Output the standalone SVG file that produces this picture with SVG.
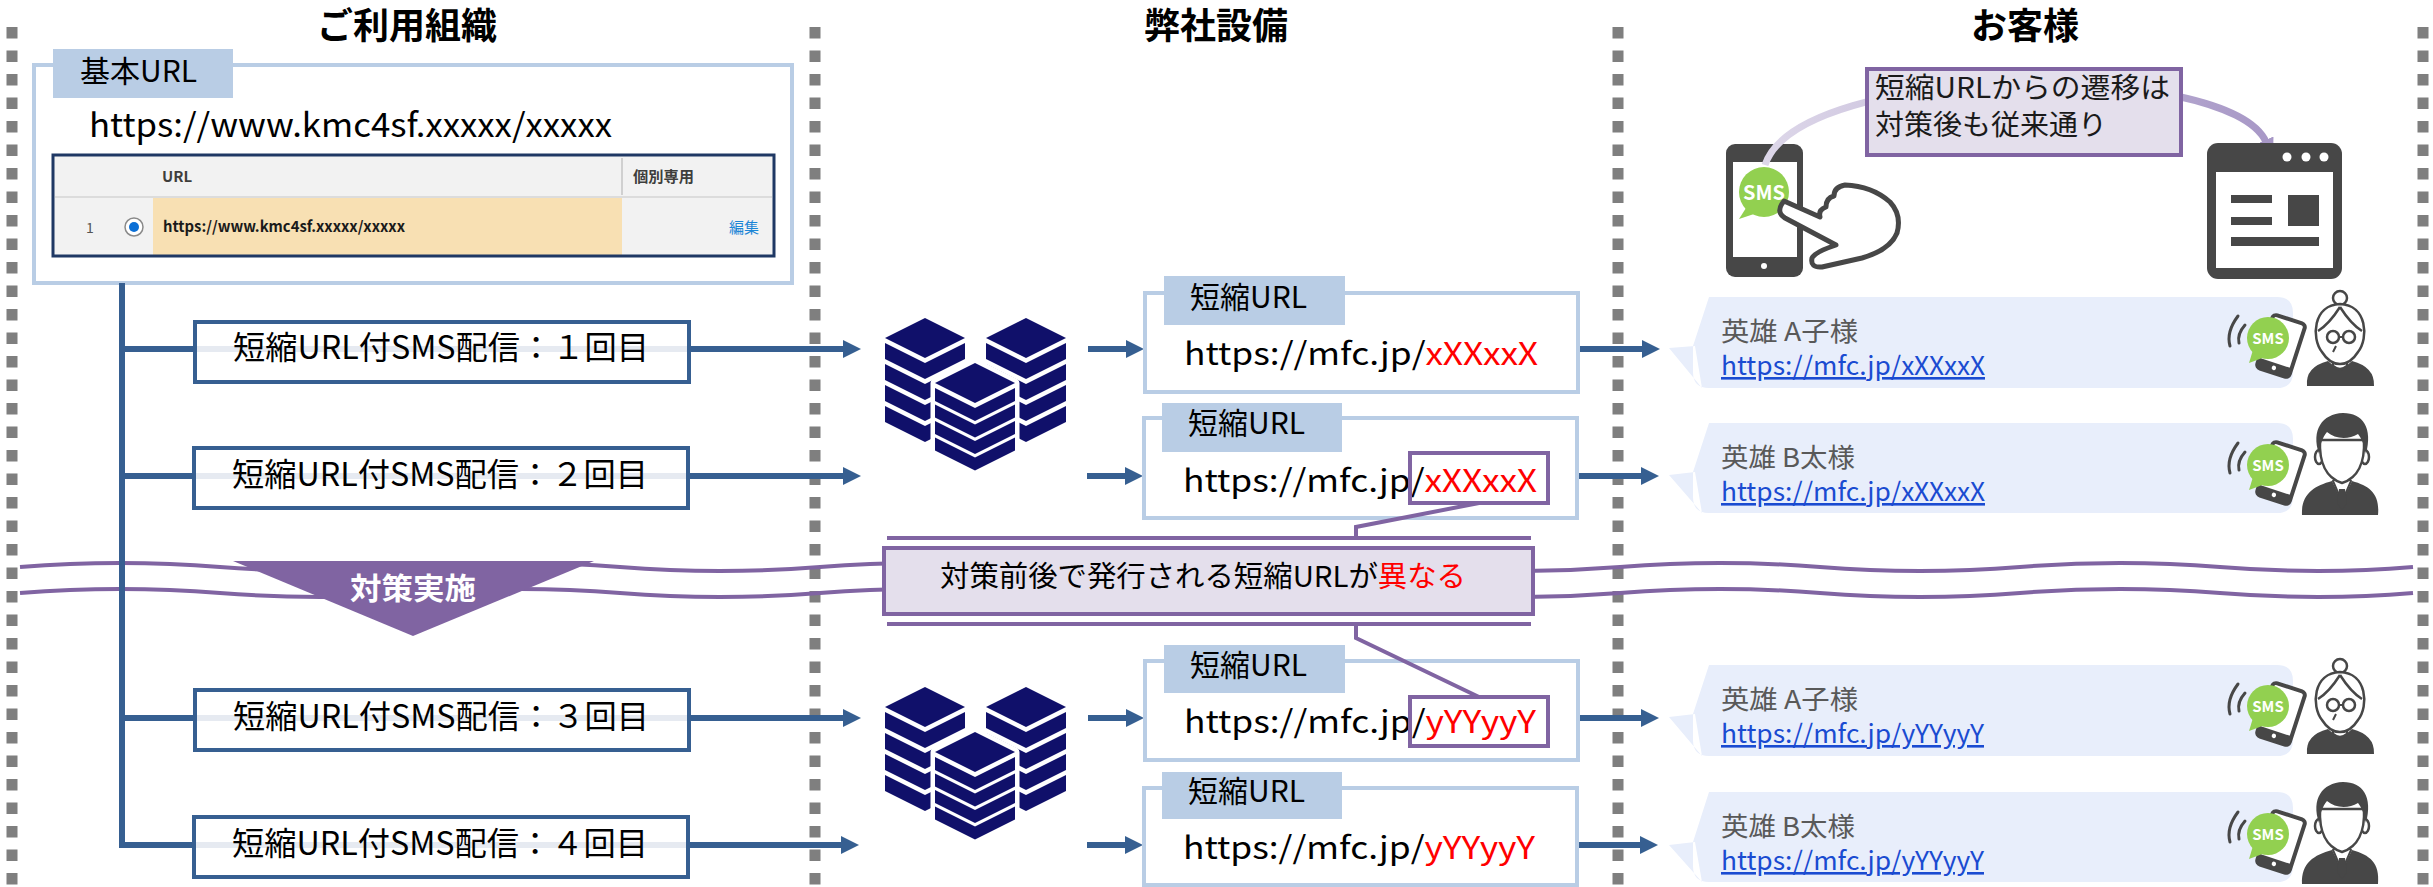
<svg xmlns="http://www.w3.org/2000/svg" width="2433" height="887" viewBox="0 0 2433 887">
<defs>
<style>
text { font-family: 'Noto Sans CJK JP', 'Noto Sans', sans-serif; }
.title { font-size: 36px; font-weight: 700; fill: #000; text-anchor: middle; }
.sep { stroke: #7f7f7f; stroke-width: 11; stroke-dasharray: 11.5 12; fill: none; }
.wave { fill: none; stroke: #8064a2; stroke-width: 4; }
.conn { stroke: #365f91; stroke-width: 6; fill: none; }
.arr { stroke: #365f91; stroke-width: 6; fill: none; marker-end: url(#head); }
.smsbox { fill: #fff; stroke: #365f91; stroke-width: 4; }
.ghost { stroke: #e6eaf1; stroke-width: 6; }
.smstext { font-size: 32px; fill: #000; }
.urlbox { fill: #fff; stroke: #b9cde5; stroke-width: 4; }
.tab { fill: #b9cde5; }
.tabtext { font-size: 30px; fill: #000; }
.url { font-size: 31px; fill: #000; }
.red { fill: #ff0000; }
.mark { fill: none; stroke: #8064a2; stroke-width: 4; }
.lead { fill: none; stroke: #8064a2; stroke-width: 4; }
.callout { fill: #e4dfec; stroke: #8064a2; stroke-width: 4; }
.bubble { fill: #e8eefb; }
.name { font-size: 26px; fill: #595959; }
.link { font-size: 26px; fill: #1a4bd1; text-decoration: underline; }
.server { fill: #10106a; }
.icon { fill: #474747; }
.outline { fill: #fff; stroke: #474747; stroke-width: 2.5; stroke-linejoin: round; }
.smslbl { font-weight: 700; fill: #fff; text-anchor: middle; }
</style>
<marker id="head" viewBox="0 0 18 18" markerUnits="userSpaceOnUse" markerWidth="18" markerHeight="18" refX="0" refY="9" orient="auto">
<path d="M0,0 L18,9 L0,18 Z" fill="#365f91"/>
</marker>
<marker id="arcHead" viewBox="0 0 20 20" markerUnits="userSpaceOnUse" markerWidth="20" markerHeight="20" refX="2" refY="10" orient="auto">
<path d="M0,1 L20,10 L0,19 Z" fill="#a797c6"/>
</marker>
<linearGradient id="arcGrad" gradientUnits="userSpaceOnUse" x1="1765" y1="0" x2="2275" y2="0">
<stop offset="0" stop-color="#ddd7e9"/>
<stop offset="1" stop-color="#a797c6"/>
</linearGradient>

<!-- stacked-server glyph -->
<g id="serverGlyph" class="server">
<!-- left stack -->
<path d="M885,338 L925,318 L965,338 L925,358 Z"/>
<path d="M885,343 L925,363 L965,343 L965,359 L925,379 L885,359 Z"/>
<path d="M885,364 L925,384 L965,364 L965,380 L925,400 L885,380 Z"/>
<path d="M885,385 L925,405 L965,385 L965,401 L925,421 L885,401 Z"/>
<path d="M885,406 L925,426 L965,406 L965,422 L925,442 L885,422 Z"/>
<!-- right stack -->
<path d="M986,338 L1026,318 L1066,338 L1026,358 Z"/>
<path d="M986,343 L1026,363 L1066,343 L1066,359 L1026,379 L986,359 Z"/>
<path d="M986,364 L1026,384 L1066,364 L1066,380 L1026,400 L986,380 Z"/>
<path d="M986,385 L1026,405 L1066,385 L1066,401 L1026,421 L986,401 Z"/>
<path d="M986,406 L1026,426 L1066,406 L1066,422 L1026,442 L986,422 Z"/>
<!-- front stack -->
<path d="M935,383 L975,363 L1015,383 L1015,451 L975,471 L935,451 Z" fill="#fff" stroke="#fff" stroke-width="9" stroke-linejoin="round"/>
<path d="M935,383 L975,363 L1015,383 L975,403 Z"/>
<path d="M935,388 L975,408 L1015,388 L1015,401 L975,421 L935,401 Z"/>
<path d="M935,404.5 L975,424.5 L1015,404.5 L1015,417.5 L975,437.5 L935,417.5 Z"/>
<path d="M935,421 L975,441 L1015,421 L1015,434 L975,454 L935,434 Z"/>
<path d="M935,437.5 L975,457.5 L1015,437.5 L1015,450.5 L975,470.5 L935,450.5 Z"/>
</g>

<!-- phone receiving an SMS, centred on the green badge -->
<g id="smsPhone">
<g transform="translate(13,8) rotate(18)">
<rect x="-17" y="-28" width="34" height="56" rx="4" fill="#fff" stroke="#474747" stroke-width="4"/>
<rect x="-17" y="18" width="34" height="10" fill="#474747"/>
<circle cx="0" cy="23" r="2.2" fill="#fff"/>
</g>
<path d="M-30,-22 Q-42,-6 -38,8" fill="none" stroke="#474747" stroke-width="3" stroke-linecap="round"/>
<path d="M-23,-13 Q-31,-4 -29,5" fill="none" stroke="#474747" stroke-width="3" stroke-linecap="round"/>
<path d="M-15,12 L-19,25 L-3,19 Z" fill="#92d050"/>
<circle cx="0" cy="0" r="21" fill="#92d050"/>
<text x="0" y="6" class="smslbl" font-size="15">SMS</text>
</g>

<!-- woman figure -->
<g id="woman">
<path class="icon" d="M2307,386 Q2305,367 2328,361 Q2340,373 2352,361 Q2375,367 2374,386 Z"/>
<path class="outline" d="M2333,356 L2333,366 Q2340,372 2347,366 L2347,356 Z"/>
<circle class="outline" cx="2340" cy="298" r="7"/>
<path class="outline" d="M2322,352 C2311,338 2313,305 2340,304 C2367,305 2369,338 2358,352 C2353,360 2346,364 2340,364 C2334,364 2327,360 2322,352 Z"/>
<path d="M2340,307 C2333,318 2326,326 2318,331 M2340,307 C2347,318 2354,326 2362,331" fill="none" stroke="#474747" stroke-width="2.5"/>
<circle cx="2333" cy="337" r="6" fill="none" stroke="#474747" stroke-width="2.5"/>
<circle cx="2349" cy="337" r="6" fill="none" stroke="#474747" stroke-width="2.5"/>
<path d="M2339,337 L2343,337 M2336,346 L2333,352" stroke="#474747" stroke-width="2" fill="none"/>
</g>

<!-- man figure -->
<g id="man">
<path class="icon" d="M2302,515 C2301,494 2314,486 2332,481 L2342,502 L2352,481 C2370,486 2380,494 2378,515 Z"/>
<path d="M2333,481 L2342,502 L2351,481 L2347,477 L2337,477 Z" fill="#fff" stroke="#474747" stroke-width="2"/>
<path class="icon" d="M2339,489 L2345,489 L2347,503 L2342,510 L2337,503 Z"/>
<ellipse class="outline" cx="2319" cy="457" rx="4" ry="7"/>
<ellipse class="outline" cx="2365" cy="457" rx="4" ry="7"/>
<path class="outline" d="M2320,440 C2319,462 2326,478 2342,483 C2358,478 2365,462 2364,440 Z"/>
<path class="icon" d="M2319,454 C2311,430 2322,414 2343,413 C2363,413 2373,428 2366,454 C2364,445 2362,439 2358,434 C2348,440 2335,439 2327,432 C2322,438 2320,446 2319,454 Z"/>
</g>
</defs>

<!-- column separators -->
<g id="separators">
<line class="sep" x1="12" y1="27" x2="12" y2="887"/>
<line class="sep" x1="815" y1="27" x2="815" y2="887"/>
<line class="sep" x1="1618" y1="27" x2="1618" y2="887"/>
<line class="sep" x1="2423" y1="27" x2="2423" y2="887"/>
</g>

<!-- column headers -->
<g id="col-headers">
<text class="title" x="407" y="39">ご利用組織</text>
<text class="title" x="1216" y="39">弊社設備</text>
<text class="title" x="2025" y="39">お客様</text>
</g>

<!-- break lines marking the change-over -->
<g id="break-waves">
<path class="wave" d="M20,567 q100,-8 200,0 t200,0 t200,0 t200,0 t200,0 t200,0 t200,0 t200,0 t200,0 t200,0 t200,0 t193,0"/>
<path class="wave" d="M20,593 q100,-8 200,0 t200,0 t200,0 t200,0 t200,0 t200,0 t200,0 t200,0 t200,0 t200,0 t200,0 t193,0"/>
</g>

<!-- base URL registered by the organisation -->
<g id="base-url">
<rect x="34" y="65" width="758" height="218" fill="#fff" stroke="#b9cde5" stroke-width="4"/>
<rect class="tab" x="53" y="49" width="180" height="49"/>
<text class="tabtext" x="80" y="82">基本URL</text>
<text x="89" y="137" font-size="33" textLength="523" lengthAdjust="spacingAndGlyphs">https://www.kmc4sf.xxxxx/xxxxx</text>
<g id="url-table">
<rect x="53" y="155" width="721" height="101" fill="#f2f2f2"/>
<rect x="153" y="198" width="469" height="57" fill="#f8e0b3"/>
<line x1="55" y1="197" x2="772" y2="197" stroke="#dcdcdc" stroke-width="2"/>
<line x1="622" y1="158" x2="622" y2="195" stroke="#c4c4c4" stroke-width="1.5"/>
<text x="162" y="182" font-size="15" font-weight="700" fill="#3e3e3c">URL</text>
<text x="633" y="182" font-size="15" font-weight="700" fill="#3e3e3c" textLength="61" lengthAdjust="spacingAndGlyphs">個別専用</text>
<text x="86" y="233" font-size="14" fill="#555">1</text>
<circle cx="134" cy="227" r="9" fill="#fff" stroke="#8a8a8a" stroke-width="1.5"/>
<circle cx="134" cy="227" r="5" fill="#0b6fd6"/>
<text x="163" y="232" font-size="15" font-weight="700" fill="#1a1a1a" textLength="242" lengthAdjust="spacingAndGlyphs">https://www.kmc4sf.xxxxx/xxxxx</text>
<text x="729" y="233" font-size="15" fill="#1b86d6" textLength="30" lengthAdjust="spacingAndGlyphs">編集</text>
<rect x="53" y="155" width="721" height="101" fill="none" stroke="#1f3864" stroke-width="3"/>
</g>
</g>

<!-- connectors -->
<g id="connectors">
<path class="conn" d="M122,283 L122,845 L197,845"/>
<line class="conn" x1="122" y1="349" x2="197" y2="349"/>
<line class="conn" x1="122" y1="476" x2="196" y2="476"/>
<line class="conn" x1="122" y1="718" x2="197" y2="718"/>
<line class="arr" x1="689" y1="349" x2="843" y2="349"/>
<line class="arr" x1="688" y1="476" x2="843" y2="476"/>
<line class="arr" x1="689" y1="718" x2="843" y2="718"/>
<line class="arr" x1="688" y1="845" x2="841" y2="845"/>
<line class="arr" x1="1088" y1="349" x2="1126" y2="349"/>
<line class="arr" x1="1087" y1="476" x2="1125" y2="476"/>
<line class="arr" x1="1088" y1="718" x2="1126" y2="718"/>
<line class="arr" x1="1087" y1="845" x2="1125" y2="845"/>
<line class="arr" x1="1578" y1="349" x2="1642" y2="349"/>
<line class="arr" x1="1577" y1="476" x2="1641" y2="476"/>
<line class="arr" x1="1578" y1="718" x2="1641" y2="718"/>
<line class="arr" x1="1577" y1="845" x2="1640" y2="845"/>
</g>

<!-- SMS dispatches -->
<g id="sms-1">
<rect class="smsbox" x="195" y="322" width="494" height="60"/>
<line class="ghost" x1="197" y1="349" x2="687" y2="349"/>
<text class="smstext" x="233" y="359" textLength="416" lengthAdjust="spacingAndGlyphs">短縮URL付SMS配信：１回目</text>
</g>
<g id="sms-2">
<rect class="smsbox" x="194" y="448" width="494" height="60"/>
<line class="ghost" x1="196" y1="476" x2="686" y2="476"/>
<text class="smstext" x="232" y="486" textLength="416" lengthAdjust="spacingAndGlyphs">短縮URL付SMS配信：２回目</text>
</g>
<g id="sms-3">
<rect class="smsbox" x="195" y="690" width="494" height="60"/>
<line class="ghost" x1="197" y1="718" x2="687" y2="718"/>
<text class="smstext" x="233" y="728" textLength="416" lengthAdjust="spacingAndGlyphs">短縮URL付SMS配信：３回目</text>
</g>
<g id="sms-4">
<rect class="smsbox" x="194" y="817" width="494" height="60"/>
<line class="ghost" x1="196" y1="845" x2="686" y2="845"/>
<text class="smstext" x="232" y="855" textLength="416" lengthAdjust="spacingAndGlyphs">短縮URL付SMS配信：４回目</text>
</g>

<!-- countermeasure marker -->
<g id="countermeasure">
<path d="M233,561 L594,561 L413,636 Z" fill="#8064a2"/>
<text x="413" y="599" font-size="30" font-weight="700" fill="#fff" text-anchor="middle" textLength="126" lengthAdjust="spacingAndGlyphs">対策実施</text>
</g>

<!-- shortening servers -->
<g id="server-1"><use href="#serverGlyph"/></g>
<g id="server-2"><use href="#serverGlyph" transform="translate(0,369)"/></g>

<!-- issued short URLs -->
<g id="short-url-1">
<rect class="urlbox" x="1145" y="293" width="433" height="99"/>
<rect class="tab" x="1164" y="276" width="181" height="49"/>
<text class="tabtext" x="1190" y="308">短縮URL</text>
<text class="url" x="1184" y="365" textLength="354" lengthAdjust="spacingAndGlyphs">https://mfc.jp/<tspan class="red">xXXxxX</tspan></text>
</g>
<g id="short-url-2">
<rect class="urlbox" x="1144" y="418" width="433" height="100"/>
<rect class="tab" x="1162" y="403" width="180" height="49"/>
<text class="tabtext" x="1188" y="434">短縮URL</text>
<text class="url" x="1183" y="492" textLength="354" lengthAdjust="spacingAndGlyphs">https://mfc.jp/<tspan class="red">xXXxxX</tspan></text>
<rect class="mark" x="1410" y="453" width="138" height="50"/>
</g>
<g id="short-url-3">
<rect class="urlbox" x="1145" y="661" width="433" height="99"/>
<rect class="tab" x="1164" y="645" width="181" height="48"/>
<text class="tabtext" x="1190" y="676">短縮URL</text>
<text class="url" x="1184" y="733" textLength="352" lengthAdjust="spacingAndGlyphs">https://mfc.jp/<tspan class="red">yYYyyY</tspan></text>
<rect class="mark" x="1410" y="697" width="138" height="49"/>
</g>
<g id="short-url-4">
<rect class="urlbox" x="1144" y="788" width="433" height="97"/>
<rect class="tab" x="1162" y="772" width="180" height="47"/>
<text class="tabtext" x="1188" y="802">短縮URL</text>
<text class="url" x="1183" y="859" textLength="352" lengthAdjust="spacingAndGlyphs">https://mfc.jp/<tspan class="red">yYYyyY</tspan></text>
</g>

<!-- note: short URLs differ before and after -->
<g id="diff-note">
<path class="lead" d="M1479,503 L1356,527 L1356,538"/>
<line class="lead" x1="887" y1="538" x2="1531" y2="538"/>
<rect class="callout" x="884" y="548" width="649" height="66"/>
<line class="lead" x1="887" y1="624" x2="1531" y2="624"/>
<path class="lead" d="M1356,624 L1356,638 L1479,697"/>
<text x="940" y="587" font-size="29" fill="#000" textLength="526" lengthAdjust="spacingAndGlyphs">対策前後で発行される短縮URLが<tspan class="red">異なる</tspan></text>
</g>

<!-- recipients -->
<g id="customer-1">
<path class="bubble" d="M1709,297 H2277 Q2293,297 2293,313 V372 Q2293,388 2277,388 H1709 Q1693,388 1693,372 V346 Z M1695,346 L1669,348 L1702,388 Z"/>
<text class="name" x="1721" y="341" textLength="137" lengthAdjust="spacingAndGlyphs">英雄 A子様</text>
<text class="link" x="1721" y="375" textLength="264" lengthAdjust="spacingAndGlyphs">https://mfc.jp/xXXxxX</text>
<use href="#smsPhone" transform="translate(2268,338)"/>
<use href="#woman"/>
</g>
<g id="customer-2">
<path class="bubble" d="M1709,423 H2277 Q2293,423 2293,439 V497 Q2293,513 2277,513 H1709 Q1693,513 1693,497 V472 Z M1695,472 L1669,475 L1702,513 Z"/>
<text class="name" x="1721" y="467" textLength="134" lengthAdjust="spacingAndGlyphs">英雄 B太様</text>
<text class="link" x="1721" y="501" textLength="264" lengthAdjust="spacingAndGlyphs">https://mfc.jp/xXXxxX</text>
<use href="#smsPhone" transform="translate(2268,465)"/>
<use href="#man"/>
</g>
<g id="customer-3">
<path class="bubble" d="M1709,665 H2277 Q2293,665 2293,681 V740 Q2293,756 2277,756 H1709 Q1693,756 1693,740 V714 Z M1695,714 L1669,717 L1702,756 Z"/>
<text class="name" x="1721" y="709" textLength="137" lengthAdjust="spacingAndGlyphs">英雄 A子様</text>
<text class="link" x="1721" y="743" textLength="263" lengthAdjust="spacingAndGlyphs">https://mfc.jp/yYYyyY</text>
<use href="#smsPhone" transform="translate(2268,706)"/>
<use href="#woman" transform="translate(0,368)"/>
</g>
<g id="customer-4">
<path class="bubble" d="M1709,792 H2277 Q2293,792 2293,808 V866 Q2293,882 2277,882 H1709 Q1693,882 1693,866 V842 Z M1695,842 L1669,845 L1702,882 Z"/>
<text class="name" x="1721" y="836" textLength="134" lengthAdjust="spacingAndGlyphs">英雄 B太様</text>
<text class="link" x="1721" y="870" textLength="263" lengthAdjust="spacingAndGlyphs">https://mfc.jp/yYYyyY</text>
<use href="#smsPhone" transform="translate(2268,834)"/>
<use href="#man" transform="translate(0,369)"/>
</g>

<!-- redirect behaviour is unchanged -->
<g id="redirect-note">
<g id="tap-phone">
<rect x="1726" y="144" width="77" height="133" rx="9" fill="#474747"/>
<rect x="1733" y="162" width="64" height="95" fill="#fff"/>
<circle cx="1764" cy="266" r="3" fill="#fff"/>
</g>
<path d="M1765,165 C1800,60 2230,60 2266,142" fill="none" stroke="url(#arcGrad)" stroke-width="7" marker-end="url(#arcHead)"/>
<rect class="callout" x="1867" y="69" width="314" height="86"/>
<text x="1875" y="98" font-size="28" fill="#1a1a1a" textLength="295" lengthAdjust="spacingAndGlyphs">短縮URLからの遷移は</text>
<text x="1875" y="135" font-size="28" fill="#1a1a1a" textLength="232" lengthAdjust="spacingAndGlyphs">対策後も従来通り</text>
<g id="tap-sms">
<path d="M1746,208 L1739,219 L1757,213 Z" fill="#92d050"/>
<circle cx="1764" cy="192" r="25" fill="#92d050"/>
<text x="1764" y="200" class="smslbl" font-size="20" textLength="42" lengthAdjust="spacingAndGlyphs">SMS</text>
</g>
<path id="tap-hand" d="M1784,201 L1820,217 Q1818,210 1826,207 Q1826,198 1834,196 Q1834,187 1845,185 Q1872,186 1890,202 Q1902,215 1897,233 Q1890,250 1862,258 L1822,267 Q1810,268 1812,258 Q1815,252 1836,245 L1785,218 Q1775,212 1784,201 Z" fill="#fff" stroke="#474747" stroke-width="5" stroke-linejoin="round"/>
<g id="browser">
<rect x="2207" y="143" width="135" height="136" rx="11" fill="#474747"/>
<rect x="2216" y="172" width="117" height="96" fill="#fff"/>
<circle cx="2287" cy="157" r="4.5" fill="#fff"/>
<circle cx="2306" cy="157" r="4.5" fill="#fff"/>
<circle cx="2324" cy="157" r="4.5" fill="#fff"/>
<rect x="2231" y="195" width="41" height="8" fill="#474747"/>
<rect x="2231" y="217" width="41" height="8" fill="#474747"/>
<rect x="2288" y="195" width="31" height="31" fill="#474747"/>
<rect x="2231" y="237" width="88" height="9" fill="#474747"/>
</g>
</g>
</svg>
